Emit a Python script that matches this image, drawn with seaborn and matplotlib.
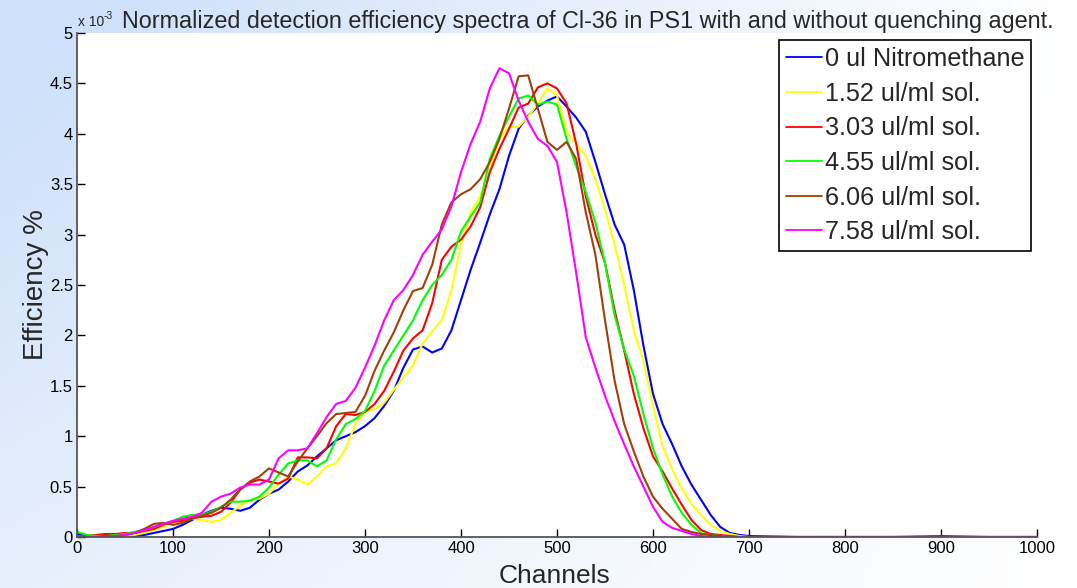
import numpy as np
import pandas as pd
import seaborn as sns
import matplotlib.pyplot as plt

# channel grid (0..700 every 10, then the flat tail)
channels = list(range(0, 710, 10)) + [750, 800, 850, 900, 950, 1000]

# efficiency values, in units of 1e-3
eff_0 = [0.03, 0.01, 0.0, 0.0, 0.0, 0.0, 0.01, 0.02, 0.04, 0.06,
         0.08, 0.12, 0.17, 0.22, 0.26, 0.29, 0.28, 0.26, 0.29, 0.37,
         0.43, 0.47, 0.55, 0.65, 0.71, 0.80, 0.88, 0.96, 1.00, 1.04,
         1.10, 1.18, 1.30, 1.45, 1.68, 1.86, 1.89, 1.83, 1.87, 2.05,
         2.35, 2.65, 2.92, 3.20, 3.45, 3.78, 4.05, 4.18, 4.27, 4.33,
         4.37, 4.27, 4.16, 4.02, 3.72, 3.40, 3.10, 2.90, 2.45, 1.90,
         1.42, 1.12, 0.92, 0.70, 0.52, 0.37, 0.22, 0.10, 0.04, 0.02,
         0.01, 0.0, 0.0, 0.0, 0.0, 0.0, 0.0]
eff_152 = [0.0, 0.0, 0.0, 0.0, 0.0, 0.0, 0.02, 0.04, 0.07, 0.10,
           0.14, 0.17, 0.18, 0.17, 0.15, 0.17, 0.24, 0.31, 0.37, 0.38,
           0.43, 0.53, 0.60, 0.57, 0.52, 0.60, 0.70, 0.73, 0.88, 1.12,
           1.24, 1.27, 1.33, 1.46, 1.58, 1.70, 1.92, 2.04, 2.15, 2.45,
           2.90, 3.22, 3.38, 3.65, 3.95, 4.07, 4.07, 4.17, 4.30, 4.45,
           4.38, 4.02, 3.90, 3.78, 3.55, 3.25, 2.90, 2.50, 2.05, 1.75,
           1.30, 0.90, 0.67, 0.48, 0.33, 0.22, 0.12, 0.06, 0.03, 0.01,
           0.0, 0.0, 0.0, 0.0, 0.0, 0.0, 0.0]
eff_303 = [0.01, 0.01, 0.02, 0.03, 0.03, 0.04, 0.04, 0.06, 0.08, 0.12,
           0.15, 0.16, 0.19, 0.20, 0.21, 0.25, 0.34, 0.47, 0.54, 0.57,
           0.55, 0.53, 0.58, 0.79, 0.79, 0.78, 0.88, 1.10, 1.22, 1.21,
           1.24, 1.32, 1.45, 1.64, 1.85, 1.97, 2.05, 2.32, 2.75, 2.88,
           2.95, 3.08, 3.27, 3.62, 3.85, 4.05, 4.26, 4.30, 4.46, 4.50,
           4.45, 4.30, 3.90, 3.38, 3.00, 2.72, 2.25, 1.85, 1.42, 1.08,
           0.80, 0.65, 0.48, 0.32, 0.17, 0.07, 0.03, 0.02, 0.01, 0.0,
           0.0, 0.0, 0.0, 0.0, 0.01, 0.0, 0.0]
eff_455 = [0.05, 0.02, 0.01, 0.01, 0.02, 0.03, 0.05, 0.07, 0.10, 0.13,
           0.16, 0.20, 0.22, 0.22, 0.25, 0.30, 0.35, 0.35, 0.36, 0.40,
           0.49, 0.62, 0.73, 0.76, 0.76, 0.70, 0.76, 0.97, 1.12, 1.17,
           1.25, 1.45, 1.70, 1.85, 2.00, 2.15, 2.35, 2.50, 2.60, 2.75,
           3.03, 3.18, 3.32, 3.75, 3.98, 4.17, 4.35, 4.38, 4.29, 4.32,
           4.29, 3.95, 3.68, 3.42, 3.12, 2.72, 2.20, 1.86, 1.60, 1.22,
           0.88, 0.62, 0.40, 0.24, 0.12, 0.04, 0.02, 0.01, 0.0, 0.0,
           0.0, 0.0, 0.0, 0.0, 0.0, 0.0, 0.0]
eff_606 = [0.0, 0.0, 0.0, 0.01, 0.01, 0.02, 0.04, 0.08, 0.13, 0.14,
           0.12, 0.14, 0.18, 0.21, 0.24, 0.29, 0.37, 0.47, 0.55, 0.60,
           0.68, 0.64, 0.60, 0.75, 0.88, 1.00, 1.13, 1.22, 1.23, 1.24,
           1.40, 1.65, 1.85, 2.03, 2.25, 2.44, 2.47, 2.70, 3.10, 3.32,
           3.40, 3.45, 3.55, 3.72, 3.95, 4.25, 4.57, 4.58, 4.25, 3.92,
           3.84, 3.92, 3.75, 3.22, 2.80, 2.15, 1.55, 1.12, 0.85, 0.60,
           0.40, 0.28, 0.18, 0.08, 0.05, 0.03, 0.02, 0.01, 0.0, 0.0,
           0.0, 0.0, 0.0, 0.0, 0.0, 0.0, 0.0]
eff_758 = [0.01, 0.0, 0.0, 0.0, 0.01, 0.02, 0.04, 0.07, 0.10, 0.13,
           0.16, 0.18, 0.20, 0.24, 0.35, 0.40, 0.43, 0.49, 0.52, 0.52,
           0.57, 0.78, 0.86, 0.86, 0.88, 1.03, 1.19, 1.32, 1.35, 1.48,
           1.68, 1.90, 2.15, 2.35, 2.45, 2.60, 2.80, 2.93, 3.05, 3.28,
           3.62, 3.90, 4.12, 4.45, 4.65, 4.60, 4.33, 4.12, 3.95, 3.88,
           3.72, 3.22, 2.62, 1.98, 1.68, 1.40, 1.15, 0.92, 0.70, 0.50,
           0.30, 0.15, 0.09, 0.06, 0.03, 0.01, 0.0, 0.0, 0.0, 0.0,
           0.0, 0.0, 0.0, 0.0, 0.0, 0.0, 0.0]

labels = ['0 ul Nitromethane', '1.52 ul/ml sol.', '3.03 ul/ml sol.',
          '4.55 ul/ml sol.', '6.06 ul/ml sol.', '7.58 ul/ml sol.']
colors = ['#0000ff', '#ffff00', '#ff0000', '#00ff00', '#a0400a', '#ff00ff']
series = [eff_0, eff_152, eff_303, eff_455, eff_606, eff_758]

frames = []
for lab, vals in zip(labels, series):
    frames.append(pd.DataFrame({'channel': channels, 'eff': vals, 'sample': lab}))
df = pd.concat(frames, ignore_index=True)

sns.set_style('white')
plt.rcParams['font.family'] = ['Liberation Sans', 'DejaVu Sans']

fig = plt.figure(figsize=(10.77, 5.88), dpi=100)

# light blue gradient background
bg = fig.add_axes([0, 0, 1, 1], zorder=-10)
gx = np.linspace(0, 1, 200)
gy = np.linspace(0, 1, 120)
X, Y = np.meshgrid(gx, gy)
f = np.clip((1 - X) * (1 - 0.55 * Y) * 1.1, 0, 1)
top = np.array([206, 224, 250]) / 255.0
img = 1 - f[..., None] * (1 - top)
bg.imshow(img, aspect='auto', extent=[0, 1, 0, 1], origin='upper')
bg.axis('off')

ax = fig.add_axes([77 / 1077, 1 - 537 / 588, 960 / 1077, 504 / 588])
ax.set_facecolor('white')
sns.lineplot(data=df, x='channel', y='eff', hue='sample', palette=colors,
             hue_order=labels, linewidth=1.5, ax=ax, estimator=None, sort=False)

ax.set_xlim(0, 1000)
ax.set_ylim(0, 5)
ax.set_xticks(range(0, 1001, 100))
ax.set_yticks(np.arange(0, 5.01, 0.5))
ax.set_yticklabels(['0', '0.5', '1', '1.5', '2', '2.5', '3', '3.5', '4', '4.5', '5'])
ax.tick_params(direction='in', length=6, width=1, labelsize=12, colors='black',
               bottom=True, left=True, pad=3)
for s in ['top', 'right']:
    ax.spines[s].set_visible(False)
for s in ['left', 'bottom']:
    ax.spines[s].set_color('#555555')
    ax.spines[s].set_linewidth(1.3)

ax.set_xlabel('Channels', fontsize=19)
ax.set_ylabel('Efficiency %', fontsize=20)
ax.xaxis.set_label_coords(478 / 960, -27 / 504)
ax.yaxis.set_label_coords(-28 / 960, 0.5)

# exponent marker, MATLAB style
fig.text(78 / 1077, 1 - 26 / 588, 'x 10', fontsize=10, ha='left', va='baseline')
fig.text(104 / 1077, 1 - 19 / 588, '-3', fontsize=7.5, ha='left', va='baseline')
fig.text(588 / 1077, 1 - 28 / 588,
         'Normalized detection efficiency spectra of Cl-36 in PS1 with and without quenching agent.',
         fontsize=16.8, ha='center', va='baseline')

handles, _ = ax.get_legend_handles_labels()
leg = ax.legend(handles, labels, loc='upper right', bbox_to_anchor=(0.994, 0.986),
                borderaxespad=0, fontsize=18.2, handlelength=1.4, handletextpad=0.12,
                labelspacing=0.42, borderpad=0.28, fancybox=False, framealpha=1,
                edgecolor='black')
leg.get_frame().set_linewidth(1.2)
for h in leg.get_lines():
    h.set_linewidth(1.3)

fig.savefig('out.png', dpi=100)
